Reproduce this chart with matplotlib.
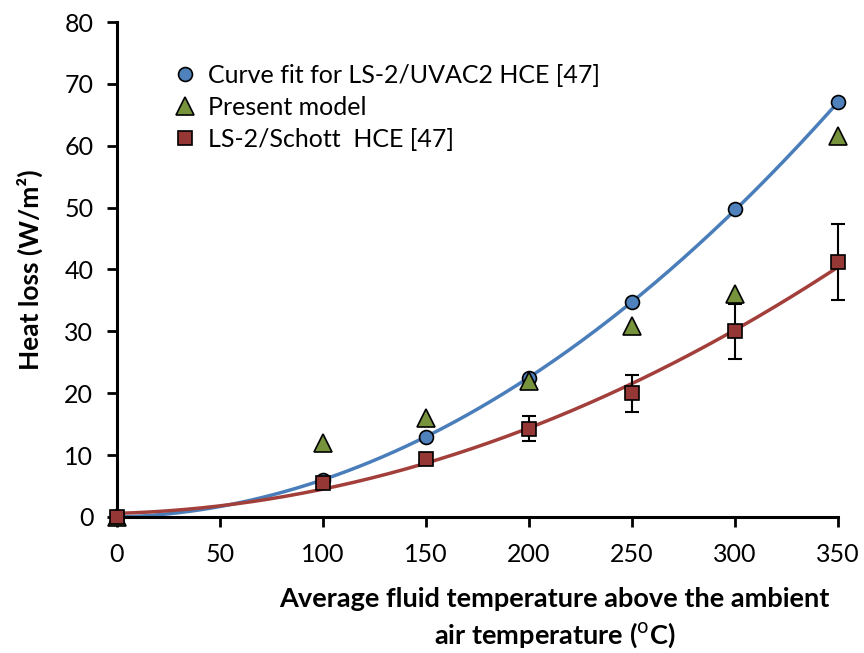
import numpy as np
import matplotlib
matplotlib.use("Agg")
import matplotlib.pyplot as plt

plt.rcParams['font.family'] = ['Lato', 'DejaVu Sans']

x = [0, 100, 150, 200, 250, 300, 350]
uvac = [0, 6.0, 13.0, 22.5, 34.8, 49.7, 67.0]
present = [0, 12.0, 16.0, 22.0, 30.8, 36.0, 61.5]
schott = [0, 5.5, 9.4, 14.3, 20.0, 30.0, 41.2]
schott_err = [0, 0, 1.0, 2.0, 3.0, 4.5, 6.2]

xticks = [0, 50, 100, 150, 200, 250, 300, 350]
yticks = [0, 10, 20, 30, 40, 50, 60, 70, 80]

blue = '#4F81BD'
green = '#77933C'
red = '#953735'

fig = plt.figure(figsize=(8.64, 6.53), dpi=100)
ax = fig.add_axes([0.1354, 0.2083, 0.8346, 0.758])

xx = np.linspace(0, 350, 300)
pb = np.polyfit(x, uvac, 2)
pr = np.polyfit(x, schott, 2)
ax.plot(xx, np.polyval(pb, xx), color='#4A7EBB', lw=2.5, zorder=2, clip_on=False)
ax.plot(xx, np.polyval(pr, xx), color='#A33F3B', lw=2.5, zorder=2, clip_on=False)

ax.errorbar(x, schott, yerr=schott_err, fmt='none', ecolor='black', elinewidth=1.5,
            capsize=5, capthick=1.5, zorder=3, clip_on=False)
ax.plot(x, uvac, 'o', ms=10, mfc=blue, mec='black', mew=1.2, ls='none', zorder=4,
        clip_on=False, label='Curve fit for LS-2/UVAC2 HCE [47]')
ax.plot(x, present, '^', ms=13, mfc=green, mec='black', mew=1.2, ls='none', zorder=5,
        clip_on=False, label='Present model')
ax.plot(x, schott, 's', ms=9.5, mfc=red, mec='black', mew=1.2, ls='none', zorder=6,
        clip_on=False, label='LS-2/Schott  HCE [47]')

ax.set_xlim(0, 350)
ax.set_ylim(0, 80)
ax.set_xticks(xticks)
ax.set_yticks(yticks)
ax.tick_params(axis='both', labelsize=18, width=2, length=7, direction='out')
ax.tick_params(axis='y', pad=10)
ax.tick_params(axis='x', pad=12)
for s in ['top', 'right']:
    ax.spines[s].set_visible(False)
for s in ['left', 'bottom']:
    ax.spines[s].set_linewidth(2.2)

ax.set_ylabel('Heat loss (W/m²)', fontsize=19, fontweight='bold', labelpad=15)
fig.text(0.642, 0.004, 'Average fluid temperature above the ambient\nair temperature ($^{\\mathrm{o}}$C)',
         ha='center', va='bottom', fontsize=19.5, fontweight='bold', linespacing=1.42)

leg = ax.legend(loc='upper left', bbox_to_anchor=(0.06, 0.935), frameon=False, fontsize=18,
                handletextpad=0.3, labelspacing=0.35, borderaxespad=0, handlelength=1.2)

fig.savefig('out.png', dpi=100)
